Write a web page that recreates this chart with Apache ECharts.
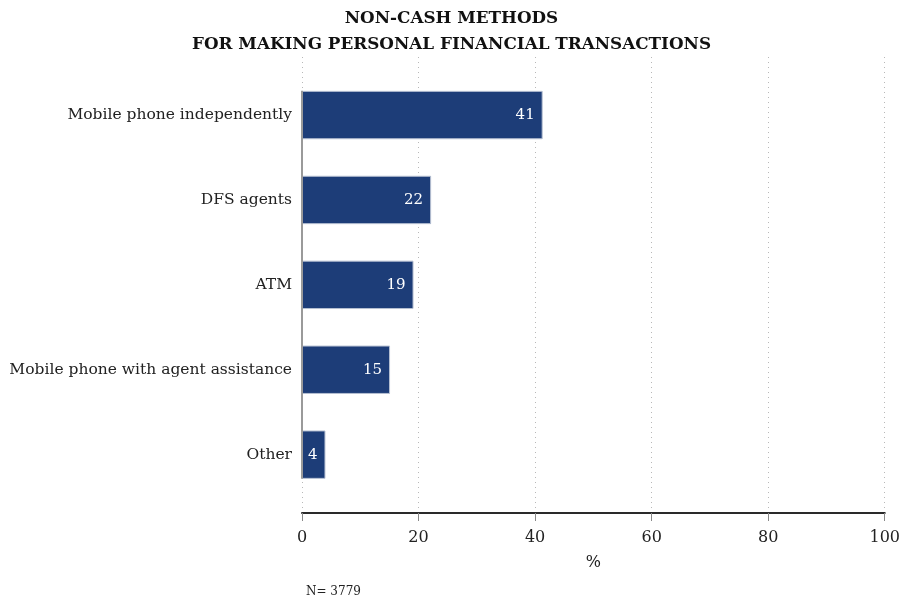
<!DOCTYPE html>
<html>
<head>
<meta charset="utf-8">
<script src="https://cdn.jsdelivr.net/npm/echarts@6/dist/echarts.min.js"></script>
<style>
  html, body { margin: 0; padding: 0; background: #fff; }
  #chart { width: 903px; height: 600px; }
</style>
</head>
<body>
<div id="chart"></div>
<script>
// Survey shares (%) of non-cash methods used for personal transactions
const categories = [
  'Mobile phone independently',
  'DFS agents',
  'ATM',
  'Mobile phone with agent assistance',
  'Other'
];
const shares = [41, 22, 19, 15, 4];
const xTicks = [0, 20, 40, 60, 80, 100];
const sampleNote = 'N= 3779';

const FONT = '"DejaVu Serif", "Liberation Serif", serif';
const BAR = '#1d3d78';
const BAR_RATIO = 0.57;

const chart = echarts.init(document.getElementById('chart'), null, { renderer: 'canvas' });

// gray baseline running along the left edge of the bars, top of first bar to bottom of last
function renderBaseline(params, api) {
  const x0 = api.value(0);
  const top = api.coord([x0, api.value(1)]);
  const bottom = api.coord([x0, api.value(2)]);
  const band = api.size([0, 1])[1];
  const half = band * BAR_RATIO / 2;
  return {
    type: 'line',
    shape: { x1: top[0], y1: top[1] - half, x2: bottom[0], y2: bottom[1] + half },
    style: { stroke: '#9a9a9a', lineWidth: 2 },
    silent: true
  };
}

const option = {
  animation: false,
  backgroundColor: '#ffffff',
  title: {
    text: 'NON-CASH METHODS\nFOR MAKING PERSONAL FINANCIAL TRANSACTIONS',
    left: 'center',
    top: 1,
    textStyle: {
      fontFamily: FONT, fontSize: 16.8, fontWeight: 'bold', color: '#111', lineHeight: 26
    }
  },
  graphic: [{
    type: 'text',
    left: 306, top: 586,
    style: { text: sampleNote, font: '12px ' + FONT, fill: '#222' }
  }],
  grid: [
    // frame grid: vertical dotted guides and the % axis
    { left: 302, right: 14, top: 57, bottom: 87 },
    // bar grid
    { left: 302, right: 14, top: 72.6, height: 424.5 }
  ],
  xAxis: [
    {
      gridIndex: 0, type: 'value', min: 0, max: 100, interval: 20,
      name: '%', nameLocation: 'middle', nameGap: 42,
      nameTextStyle: { fontFamily: FONT, fontSize: 16, color: '#222' },
      axisLine: { show: true, lineStyle: { color: '#2a2a2a', width: 2 } },
      axisTick: { show: true, length: 8, lineStyle: { color: '#888' } },
      axisLabel: {
        margin: 17, fontFamily: FONT, fontSize: 16, color: '#222',
        formatter: v => xTicks.includes(v) ? String(v) : ''
      },
      splitLine: { show: true, lineStyle: { color: '#b8b8b8', type: [1, 4], width: 1 } }
    },
    {
      gridIndex: 1, type: 'value', min: 0, max: 100, interval: 20,
      axisLine: { show: false }, axisTick: { show: false },
      axisLabel: { show: false }, splitLine: { show: false }
    }
  ],
  yAxis: [
    {
      gridIndex: 0, type: 'value', show: false, min: 0, max: 1
    },
    {
      gridIndex: 1, type: 'category', data: categories, inverse: true,
      axisLine: { show: false }, axisTick: { show: false },
      axisLabel: { margin: 10, fontFamily: FONT, fontSize: 15.5, color: '#222' }
    }
  ],
  series: [
    {
      type: 'bar',
      xAxisIndex: 1, yAxisIndex: 1,
      data: shares,
      barWidth: (BAR_RATIO * 100) + '%',
      itemStyle: { color: BAR, borderColor: '#b6c0d2', borderWidth: 1 },
      label: {
        show: true, position: 'insideRight', distance: 8,
        fontFamily: FONT, fontSize: 15, color: '#fff'
      }
    },
    {
      type: 'custom',
      xAxisIndex: 1, yAxisIndex: 1,
      renderItem: renderBaseline,
      data: [[0, 0, categories.length - 1]],
      encode: { x: 0, y: [1, 2] },
      z: 3,
      silent: true
    }
  ]
};

chart.setOption(option);
</script>
</body>
</html>
